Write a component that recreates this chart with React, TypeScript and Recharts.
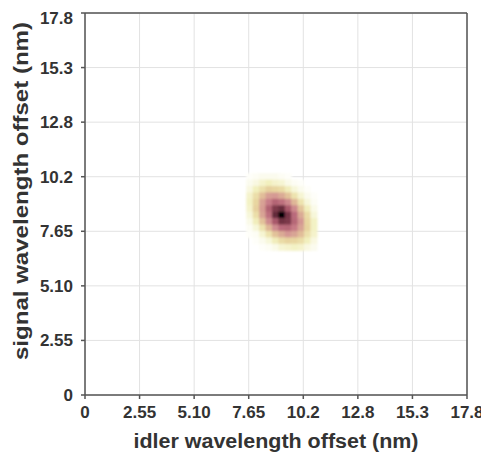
import { ScatterChart, Scatter, XAxis, YAxis, CartesianGrid, ReferenceLine } from 'recharts';

// axis ticks (nm) - both axes share the same scale
const AXIS_MAX = 17.85;
const TICK_VALUES = [0, 2.55, 5.1, 7.65, 10.2, 12.75, 15.3, 17.85];
const TICK_LABELS = ['0', '2.55', '5.10', '7.65', '10.2', '12.8', '15.3', '17.8'];

// joint spectral intensity, 0.3 nm cells around the peak
const CELL_SIZE = 0.3;
const IDLER_CELLS = [7.7, 8.0, 8.3, 8.6, 8.9, 9.2, 9.5, 9.8, 10.1, 10.4, 10.7];
const SIGNAL_CELLS = [10.2, 9.9, 9.6, 9.3, 9.0, 8.7, 8.4, 8.1, 7.8, 7.5, 7.2, 6.9];
const INTENSITY = [
  [0.01, 0.02, 0.03, 0.03, 0.03, 0.02, 0.01, 0, 0, 0, 0],
  [0.03, 0.05, 0.08, 0.1, 0.08, 0.07, 0.04, 0.02, 0.01, 0, 0],
  [0.05, 0.1, 0.16, 0.22, 0.2, 0.18, 0.11, 0.06, 0.03, 0.01, 0],
  [0.08, 0.17, 0.29, 0.4, 0.42, 0.36, 0.27, 0.15, 0.07, 0.03, 0.01],
  [0.09, 0.2, 0.39, 0.56, 0.68, 0.63, 0.5, 0.31, 0.15, 0.06, 0.02],
  [0.08, 0.22, 0.41, 0.69, 0.86, 0.9, 0.73, 0.5, 0.26, 0.11, 0.04],
  [0.06, 0.17, 0.38, 0.63, 0.91, 1.0, 0.88, 0.65, 0.36, 0.18, 0.06],
  [0.04, 0.11, 0.27, 0.49, 0.74, 0.89, 0.87, 0.67, 0.43, 0.2, 0.09],
  [0.02, 0.06, 0.15, 0.31, 0.48, 0.65, 0.67, 0.58, 0.38, 0.21, 0.09],
  [0.01, 0.02, 0.07, 0.15, 0.27, 0.36, 0.43, 0.38, 0.29, 0.16, 0.08],
  [0, 0.01, 0.03, 0.06, 0.11, 0.18, 0.21, 0.2, 0.17, 0.1, 0.05],
  [0, 0, 0.01, 0.02, 0.04, 0.07, 0.08, 0.09, 0.08, 0.05, 0.03],
];

// white -> pale yellow -> pink -> maroon -> black
const COLOR_STOPS: [number, number, number, number][] = [
  [0, 255, 255, 255],
  [0.04, 250, 250, 232],
  [0.1, 242, 240, 190],
  [0.2, 232, 214, 160],
  [0.32, 222, 180, 150],
  [0.45, 210, 146, 146],
  [0.6, 196, 118, 132],
  [0.75, 166, 86, 104],
  [0.88, 120, 54, 70],
  [0.96, 64, 26, 38],
  [1, 0, 0, 0],
];

function heatColor(v: number) {
  for (let i = 1; i < COLOR_STOPS.length; i++) {
    const [b, ...hi] = COLOR_STOPS[i];
    const [a, ...lo] = COLOR_STOPS[i - 1];
    if (v <= b) {
      const t = (v - a) / (b - a);
      const c = lo.map((l, k) => Math.round(l + (hi[k] - l) * t));
      return `rgb(${c[0]},${c[1]},${c[2]})`;
    }
  }
  return '#000';
}

const cells = SIGNAL_CELLS.flatMap((y, r) =>
  IDLER_CELLS.map((x, c) => ({ x, y, v: INTENSITY[r][c] }))
).filter((d) => d.v > 0);

const WIDTH = 481;
const HEIGHT = 445;
const MARGIN = { top: 5, right: 22, bottom: 0, left: 0 };
const Y_AXIS_W = 77;
const X_AXIS_H = 58;
const PLOT_W = WIDTH - MARGIN.left - MARGIN.right - Y_AXIS_W;
const cellPx = (CELL_SIZE / AXIS_MAX) * PLOT_W;

const TEXT = '#333';
const FRAME = '#555';
const tickStyle = { fontSize: 17, fontWeight: 700, fill: TEXT };
const fmt = (v: number) => TICK_LABELS[TICK_VALUES.indexOf(v)] ?? '';

function HeatCell(props: any) {
  const { cx, cy, payload } = props;
  if (cx == null || cy == null) return null;
  const s = cellPx + 0.6;
  return <rect x={cx - s / 2} y={cy - s / 2} width={s} height={s} fill={heatColor(payload.v)} />;
}

export default function App() {
  return (
    <div style={{ fontFamily: '"Liberation Sans", Arial, sans-serif' }}>
      <svg width={0} height={0} style={{ position: 'absolute' }}>
        <defs>
          <filter id="soft">
            <feGaussianBlur stdDeviation="1" />
          </filter>
        </defs>
      </svg>
      <style>{`.recharts-scatter { filter: url(#soft); }`}</style>
      <ScatterChart width={WIDTH} height={HEIGHT} margin={MARGIN}>
        <CartesianGrid stroke="#e2e2e2" />
        <XAxis
          type="number"
          dataKey="x"
          domain={[0, AXIS_MAX]}
          ticks={TICK_VALUES}
          tickFormatter={fmt}
          tick={tickStyle}
          tickSize={4}
          tickMargin={7}
          height={X_AXIS_H}
          stroke={FRAME}
          strokeWidth={1.5}
          label={{
            content: ({ viewBox }: any) => (
              <text
                x={viewBox.x + viewBox.width / 2}
                y={viewBox.y + 53}
                textAnchor="middle"
                fontSize={20}
                fontWeight={700}
                fill={TEXT}
                textLength={285}
                lengthAdjust="spacingAndGlyphs"
              >
                idler wavelength offset (nm)
              </text>
            ),
          }}
        />
        <YAxis
          type="number"
          dataKey="y"
          domain={[0, AXIS_MAX]}
          ticks={TICK_VALUES}
          tickFormatter={fmt}
          tick={tickStyle}
          tickSize={4}
          tickMargin={8}
          width={Y_AXIS_W}
          stroke={FRAME}
          strokeWidth={1.5}
          label={{
            content: ({ viewBox }: any) => {
              const x = viewBox.x + 20;
              const y = viewBox.y + viewBox.height / 2 - 13;
              return (
                <text
                  x={x}
                  y={y}
                  transform={`rotate(-90 ${x} ${y})`}
                  textAnchor="middle"
                  fontSize={20}
                  fontWeight={700}
                  fill={TEXT}
                  textLength={338}
                  lengthAdjust="spacingAndGlyphs"
                >
                  signal wavelength offset (nm)
                </text>
              );
            },
          }}
        />
        <ReferenceLine y={AXIS_MAX} stroke={FRAME} strokeWidth={1.5} />
        <ReferenceLine x={AXIS_MAX} stroke={FRAME} strokeWidth={1.5} />
        <Scatter data={cells} shape={HeatCell} isAnimationActive={false} />
      </ScatterChart>
    </div>
  );
}
